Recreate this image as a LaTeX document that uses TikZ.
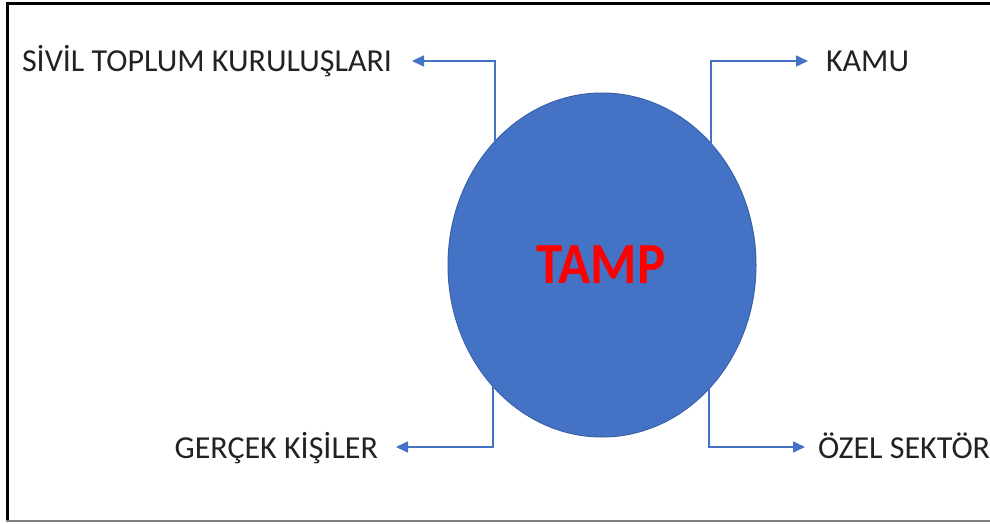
\documentclass[tikz,border=0pt]{standalone}
\usepackage{fontspec}
\setmainfont{Carlito}
\usetikzlibrary{arrows.meta,calc,shapes.geometric}
\definecolor{accblue}{HTML}{4472C4}
\definecolor{lineblue}{HTML}{5B84CB}
\definecolor{rimblue}{HTML}{3A62AA}
\definecolor{txt}{HTML}{222222}
\definecolor{tred}{HTML}{FF0000}
\tikzset{
  lbl/.style={font=\fontsize{32}{38}\selectfont, text=txt, inner sep=0pt, outer sep=0pt},
  conn/.style={draw=lineblue, line width=1.6pt, -{Triangle[length=12pt,width=11pt,fill=accblue]}, accblue},
  frame/.style={line width=3pt, draw=black}
}
\begin{document}
\begin{tikzpicture}[x=1pt,y=-1pt]
\useasboundingbox (0,0) rectangle (990,524);
% frame
\draw[frame] (7,3.5) -- (990,3.5);
\draw[frame] (7,2) -- (7,521);
\draw[line width=2pt, draw=gray] (6,520.5) -- (990,520.5);
% central ellipse
\node[ellipse, draw=rimblue, line width=1pt, fill=accblue, minimum width=308pt, minimum height=344pt, inner sep=0pt, outer sep=0pt] (T) at (602,265) {};
\node[font=\bfseries\fontsize{53}{62}\selectfont, text=tred, inner sep=0pt] (tamp) at (601,265) {\scalebox{1}[1.1]{TAMP}};
% labels
\node[lbl, anchor=base east] (sivil) at (392,72) {SİVİL TOPLUM KURULUŞLARI};
\node[lbl, anchor=base west] (kamu) at (826,72) {KAMU};
\node[lbl, anchor=base east] (gercek) at (378,458) {GERÇEK KİŞİLER};
\node[lbl, anchor=base west] (ozel) at (818,458) {ÖZEL SEKTÖR};
% connector corners and ends
\coordinate (sivilend) at (412,61);
\coordinate (kamuend) at (808,61);
\coordinate (gercekend) at (396,447);
\coordinate (ozelend) at (805,447);
\draw[conn] (T.131.9) |- (sivilend);
\draw[conn] (T.48.2) |- (kamuend);
\draw[conn] (T.228.1) |- (gercekend);
\draw[conn] (T.311.8) |- (ozelend);
\end{tikzpicture}
\end{document}
